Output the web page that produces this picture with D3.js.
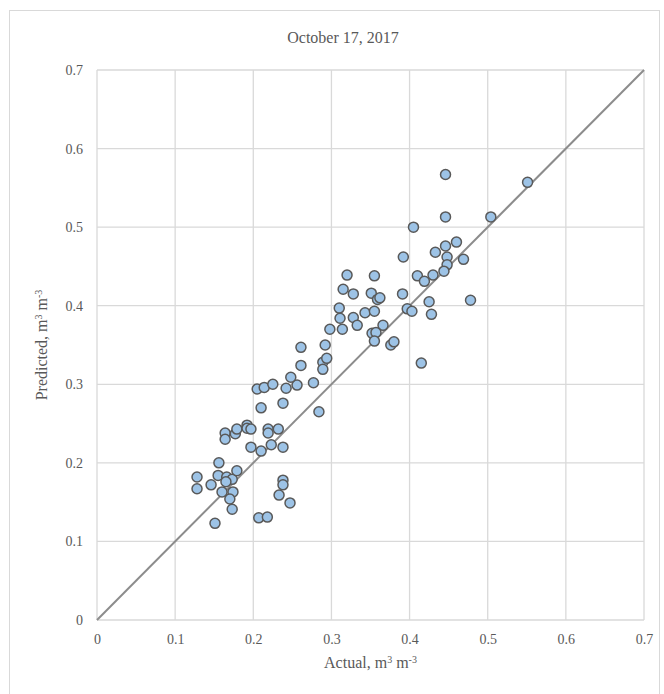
<!DOCTYPE html>
<html lang="en">
<head>
<meta charset="UTF-8">
<title>October 17, 2017</title>
<script src="https://d3js.org/d3.v7.js"></script>
<style>
  body { margin: 0; background: #fff; }
  text { font-family: "Liberation Serif", "Times New Roman", serif; fill: #595959; }
</style>
</head>
<body>
<div id="chart"></div>
<script>
// values (volumetric water content)
const actual = [0.205, 0.214, 0.225, 0.242, 0.256, 0.277, 0.248, 0.210, 0.238, 0.284,
  0.164, 0.164, 0.177, 0.179, 0.192, 0.192, 0.197, 0.219, 0.219, 0.232,
  0.197, 0.210, 0.223, 0.238, 0.156, 0.128, 0.128, 0.146, 0.155, 0.166,
  0.173, 0.179, 0.165, 0.160, 0.174, 0.170, 0.173, 0.238, 0.238, 0.233,
  0.247, 0.151, 0.207, 0.218, 0.261, 0.261, 0.292, 0.298, 0.289, 0.289,
  0.294, 0.392, 0.433, 0.446, 0.460, 0.448, 0.448, 0.469, 0.444, 0.430,
  0.410, 0.419, 0.391, 0.425, 0.428, 0.478, 0.397, 0.403, 0.320, 0.355,
  0.315, 0.328, 0.351, 0.359, 0.362, 0.310, 0.311, 0.328, 0.333, 0.343,
  0.355, 0.314, 0.366, 0.352, 0.357, 0.355, 0.376, 0.380, 0.415, 0.446,
  0.551, 0.446, 0.504, 0.405];
const predicted = [0.294, 0.296, 0.300, 0.295, 0.299, 0.302, 0.309, 0.270, 0.276, 0.265,
  0.238, 0.230, 0.237, 0.243, 0.248, 0.244, 0.243, 0.243, 0.238, 0.243,
  0.220, 0.215, 0.223, 0.220, 0.200, 0.182, 0.167, 0.172, 0.184, 0.182,
  0.179, 0.190, 0.176, 0.163, 0.163, 0.154, 0.141, 0.178, 0.172, 0.159,
  0.149, 0.123, 0.130, 0.131, 0.347, 0.324, 0.350, 0.370, 0.328, 0.319,
  0.333, 0.462, 0.468, 0.476, 0.481, 0.462, 0.452, 0.459, 0.444, 0.439,
  0.438, 0.431, 0.415, 0.405, 0.389, 0.407, 0.396, 0.393, 0.439, 0.438,
  0.421, 0.415, 0.416, 0.408, 0.410, 0.397, 0.384, 0.385, 0.375, 0.391,
  0.393, 0.370, 0.375, 0.365, 0.366, 0.355, 0.350, 0.354, 0.327, 0.567,
  0.557, 0.513, 0.513, 0.500];
const ticks = [0, 0.1, 0.2, 0.3, 0.4, 0.5, 0.6, 0.7];

const W = 664, H = 694;
const margin = { top: 70, right: 20, bottom: 74, left: 97 };
const width = W - margin.left - margin.right;
const height = H - margin.top - margin.bottom;

const svg = d3.select("#chart").append("svg")
  .attr("width", W)
  .attr("height", H);

// chart frame
svg.append("rect")
  .attr("x", 9.5).attr("y", 10.5)
  .attr("width", 650).attr("height", 690)
  .attr("fill", "none")
  .attr("stroke", "#d9d9d9");

const g = svg.append("g")
  .attr("transform", `translate(${margin.left},${margin.top})`);

const x = d3.scaleLinear().domain([0, 0.7]).range([0, width]);
const y = d3.scaleLinear().domain([0, 0.7]).range([height, 0]);

// grid
g.selectAll(".vgrid").data(ticks).enter().append("line")
  .attr("x1", d => x(d)).attr("x2", d => x(d))
  .attr("y1", 0).attr("y2", height)
  .attr("stroke", "#d9d9d9").attr("stroke-width", 1.3);
g.selectAll(".hgrid").data(ticks).enter().append("line")
  .attr("y1", d => y(d)).attr("y2", d => y(d))
  .attr("x1", 0).attr("x2", width)
  .attr("stroke", "#d9d9d9").attr("stroke-width", 1.3);

// axes (labels only)
const xAxis = g.append("g")
  .attr("transform", `translate(0,${height})`)
  .call(d3.axisBottom(x).tickValues(ticks).tickSize(0).tickPadding(14).tickFormat(d3.format("")));
const yAxis = g.append("g")
  .call(d3.axisLeft(y).tickValues(ticks).tickSize(0).tickPadding(14).tickFormat(d3.format("")));
[xAxis, yAxis].forEach(a => {
  a.select(".domain").remove();
  a.selectAll("text")
    .style("font-family", "'Liberation Serif', serif")
    .style("font-size", "14px")
    .attr("fill", "#595959");
});

// 1:1 line
g.append("line")
  .attr("x1", x(0)).attr("y1", y(0))
  .attr("x2", x(0.7)).attr("y2", y(0.7))
  .attr("stroke", "#8c8c8c")
  .attr("stroke-width", 2);

// points
g.selectAll("circle")
  .data(actual)
  .enter()
  .append("circle")
  .attr("cx", d => x(d))
  .attr("cy", (d, i) => y(predicted[i]))
  .attr("r", 5)
  .attr("fill", "#9dc3e6")
  .attr("stroke", "#595959")
  .attr("stroke-width", 1.5);

// title
svg.append("text")
  .attr("x", 343).attr("y", 43)
  .attr("text-anchor", "middle")
  .style("font-size", "16px")
  .text("October 17, 2017");

// x title
const xt = svg.append("text")
  .attr("x", margin.left + width / 2).attr("y", 668)
  .attr("text-anchor", "middle")
  .style("font-size", "16px");
xt.append("tspan").text("Actual, m");
xt.append("tspan").attr("baseline-shift", "super").style("font-size", "10px").text("3");
xt.append("tspan").text(" m");
xt.append("tspan").attr("baseline-shift", "super").style("font-size", "10px").text("-3");

// y title
const yt = svg.append("text")
  .attr("transform", `translate(47,${margin.top + height / 2}) rotate(-90)`)
  .attr("text-anchor", "middle")
  .style("font-size", "16px");
yt.append("tspan").text("Predicted, m");
yt.append("tspan").attr("baseline-shift", "super").style("font-size", "10px").text("3");
yt.append("tspan").text(" m");
yt.append("tspan").attr("baseline-shift", "super").style("font-size", "10px").text("-3");
</script>
</body>
</html>
